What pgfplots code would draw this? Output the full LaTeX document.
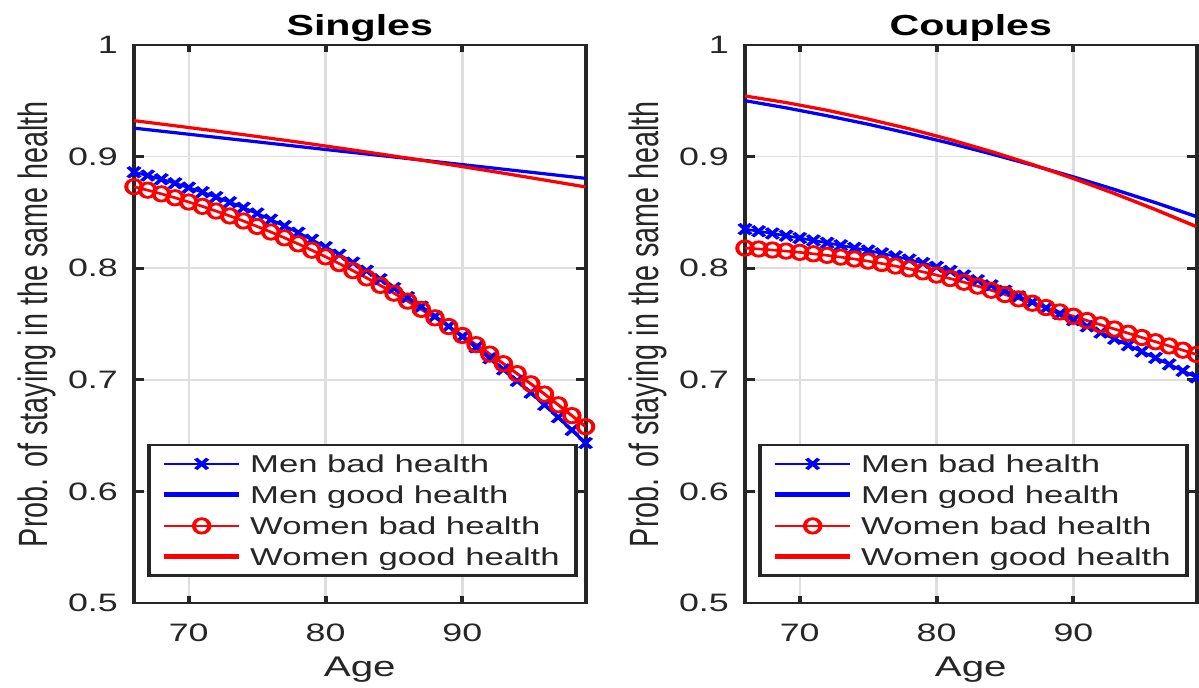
\documentclass[border=0pt]{standalone}
\usepackage{fontspec}
\setmainfont{Liberation Sans}
\usepackage{graphicx}
\usepackage{pgfplots}
\usepackage{pgfplotstable}
\pgfplotsset{compat=1.18}
\definecolor{mtxt}{rgb}{0.15,0.15,0.15}
\definecolor{mgrid}{rgb}{0.87,0.87,0.87}

% Singles, bad health (yearly)
\pgfplotstableread{
age m w
66 0.8860 0.8730
67 0.8830 0.8699
68 0.8797 0.8666
69 0.8761 0.8631
70 0.8722 0.8593
71 0.8681 0.8554
72 0.8637 0.8512
73 0.8591 0.8468
74 0.8542 0.8423
75 0.8490 0.8374
76 0.8435 0.8324
77 0.8378 0.8272
78 0.8318 0.8218
79 0.8255 0.8161
80 0.8189 0.8102
81 0.8121 0.8041
82 0.8050 0.7978
83 0.7977 0.7913
84 0.7901 0.7846
85 0.7822 0.7776
86 0.7740 0.7705
87 0.7656 0.7631
88 0.7569 0.7555
89 0.7479 0.7477
90 0.7386 0.7397
91 0.7291 0.7315
92 0.7193 0.7230
93 0.7093 0.7144
94 0.6990 0.7055
95 0.6884 0.6964
96 0.6775 0.6872
97 0.6664 0.6776
98 0.6550 0.6679
99 0.6433 0.6580
}\sbad

% Singles, good health
\pgfplotstableread{
age m w
66 0.9255 0.9322
69 0.9214 0.9276
72 0.9173 0.9229
75 0.9132 0.9180
78 0.9091 0.9130
81 0.9050 0.9077
84 0.9010 0.9023
87 0.8969 0.8968
90 0.8928 0.8910
93 0.8887 0.8851
96 0.8846 0.8790
99 0.8805 0.8728
}\sgood

% Couples, bad health (yearly)
\pgfplotstableread{
age m w
66 0.8350 0.8180
67 0.8331 0.8172
68 0.8311 0.8163
69 0.8291 0.8153
70 0.8270 0.8142
71 0.8249 0.8129
72 0.8227 0.8115
73 0.8205 0.8099
74 0.8182 0.8082
75 0.8158 0.8063
76 0.8133 0.8042
77 0.8106 0.8019
78 0.8077 0.7994
79 0.8046 0.7967
80 0.8012 0.7938
81 0.7975 0.7907
82 0.7935 0.7874
83 0.7892 0.7839
84 0.7846 0.7802
85 0.7798 0.7764
86 0.7748 0.7725
87 0.7696 0.7686
88 0.7643 0.7647
89 0.7589 0.7608
90 0.7534 0.7569
91 0.7479 0.7531
92 0.7423 0.7493
93 0.7367 0.7455
94 0.7310 0.7417
95 0.7253 0.7379
96 0.7196 0.7341
97 0.7138 0.7303
98 0.7080 0.7265
99 0.7022 0.7227
}\cbad

% Couples, good health
\pgfplotstableread{
age m w
66 0.9501 0.9543
69 0.9437 0.9484
72 0.9366 0.9415
75 0.9290 0.9336
78 0.9207 0.9249
81 0.9119 0.9152
84 0.9024 0.9045
87 0.8924 0.8929
90 0.8818 0.8804
93 0.8705 0.8669
96 0.8587 0.8525
99 0.8462 0.8372
}\cgood

\pgfplotsset{
  hrs/.style={
    scale only axis, width=159pt, height=279pt,
    xmin=66, xmax=99, ymin=0.5, ymax=1,
    xtick={70,80,90}, xticklabels={70,80,90},
    ytick={0.5,0.6,0.7,0.8,0.9,1}, yticklabels={0.5,0.6,0.7,0.8,0.9,1},
    grid=major, major grid style={line width=0.8pt, draw=mgrid},
    axis line style={line width=1.4pt, draw=mtxt},
    tick align=inside, major tick length=3.5pt,
    major tick style={line width=1.4pt, draw=mtxt},
    tick label style={font=\fontsize{12.6}{14}\selectfont, text=mtxt, inner sep=0pt},
    xticklabel style={anchor=base, yshift=-19.5pt},
    yticklabel style={anchor=east, xshift=-5.5pt},
    title style={at={(axis description cs:0.5,1)}, anchor=base, yshift=-1.5pt,
      font=\bfseries\fontsize{14.5}{16}\selectfont},
    xlabel={Age},
    xlabel style={at={(axis description cs:0.5,0)}, anchor=base, yshift=-37pt,
      font=\fontsize{14.2}{16}\selectfont, text=mtxt},
    ylabel={Prob. of staying in the same health},
    ylabel style={at={(axis description cs:-0.192,0.5)}, anchor=base,
      font=\fontsize{14.4}{16}\selectfont, text=mtxt},
    legend cell align=left,
    legend style={at={(0.0288,0.0466)}, anchor=south west, draw=mtxt,
      line width=1.3pt, fill=white, font=\fontsize{12.2}{14}\selectfont, text=mtxt,
      inner xsep=4.2pt, inner ysep=1.65pt, row sep=0pt, column sep=1.2pt,
      nodes={inner xsep=1.5pt, inner ysep=0pt, text height=12pt, text depth=3.5pt}},
    legend image code/.code={
      \draw[mark repeat=2,mark phase=2,##1] plot coordinates {(0pt,0pt) (13.1pt,0pt) (26.2pt,0pt)};
    },
  },
  menbad/.style={blue, line width=1.3pt, mark=x, mark size=3.7pt,
    mark options={solid, xscale=0.8, line width=1.5pt}},
  womenbad/.style={red, line width=1.3pt, mark=o, mark size=3.6pt,
    mark options={solid, xscale=0.76, line width=1.4pt}},
  good/.style={line width=1.6pt, legend image post style={line width=2.6pt}},
}

\begin{document}
\scalebox{1.42}[1]{%
\begin{tikzpicture}
\begin{axis}[hrs, at={(0pt,0pt)}, anchor=south west, title={Singles}]
  \addplot[menbad] table[x=age, y=m] {\sbad};
  \addlegendentry{Men bad health}
  \addplot[blue, good] table[x=age, y=m] {\sgood};
  \addlegendentry{Men good health}
  \addplot[womenbad] table[x=age, y=w] {\sbad};
  \addlegendentry{Women bad health}
  \addplot[red, good] table[x=age, y=w] {\sgood};
  \addlegendentry{Women good health}
\end{axis}
\begin{axis}[hrs, at={(215.14pt,0pt)}, anchor=south west, title={Couples}]
  \addplot[menbad] table[x=age, y=m] {\cbad};
  \addlegendentry{Men bad health}
  \addplot[blue, good] table[x=age, y=m] {\cgood};
  \addlegendentry{Men good health}
  \addplot[womenbad] table[x=age, y=w] {\cbad};
  \addlegendentry{Women bad health}
  \addplot[red, good] table[x=age, y=w] {\cgood};
  \addlegendentry{Women good health}
\end{axis}
\pgfresetboundingbox
\path[use as bounding box] (-47.18pt,-42.5pt) rectangle (375pt,301.5pt);
\end{tikzpicture}}
\end{document}
